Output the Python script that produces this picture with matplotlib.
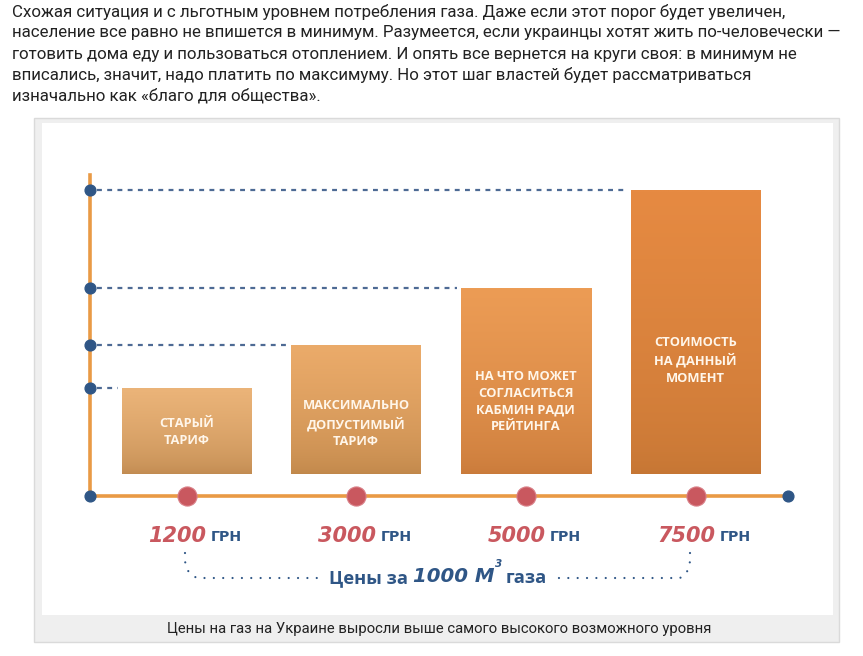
import matplotlib
matplotlib.use("Agg")
import matplotlib.pyplot as plt
import numpy as np
from matplotlib.colors import LinearSegmentedColormap
from matplotlib.patches import Rectangle

# data
prices = [1200, 3000, 5000, 7500]
bar_labels = ["СТАРЫЙ\nТАРИФ",
              "МАКСИМАЛЬНО\nДОПУСТИМЫЙ\nТАРИФ",
              "НА ЧТО МОЖЕТ\nСОГЛАСИТЬСЯ\nКАБМИН РАДИ\nРЕЙТИНГА",
              "СТОИМОСТЬ\nНА ДАННЫЙ\nМОМЕНТ"]
bar_tops = [108, 151, 208, 306]   # bar heights as drawn (not to scale with price)
bar_base = 22

paragraph = [
    "Схожая ситуация и с льготным уровнем потребления газа. Даже если этот порог будет увеличен,",
    "население все равно не впишется в минимум. Разумеется, если украинцы хотят жить по-человечески —",
    "готовить дома еду и пользоваться отоплением. И опять все вернется на круги своя: в минимум не",
    "вписались, значит, надо платить по максимуму. Но этот шаг властей будет рассматриваться",
    "изначально как «благо для общества».",
]
caption = "Цены на газ на Украине выросли выше самого высокого возможного уровня"

W, H = 863, 656
fig = plt.figure(figsize=(W / 100, H / 100), dpi=100)
fig.patch.set_facecolor("white")

# page overlay in pixel coordinates
page = fig.add_axes([0, 0, 1, 1], zorder=0)
page.set_xlim(0, W)
page.set_ylim(H, 0)
page.axis("off")

for k, line in enumerate(paragraph):
    page.text(12, 12 + k * 21, line, fontsize=12.2, family="Roboto",
              color="#222222", va="center", ha="left")

page.add_patch(Rectangle((34, 118), 805, 524, facecolor="#EFEFEF",
                         edgecolor="#DADADA", lw=1))
page.add_patch(Rectangle((42, 123), 791, 492, facecolor="white", edgecolor="none"))
page.text(439, 629, caption, fontsize=10.7, family="Roboto", color="#222222",
          ha="center", va="center")

blue = "#2F5686"
red = "#C9585F"
orange = "#E99A45"

# dotted bracket under the price labels
t = np.linspace(0, 1, 20)
lx = 185 + 12 * t ** 2
ly = 553 + 25 * np.sqrt(t)
bx = np.concatenate([lx, np.linspace(lx[-1], 322, 30)])
by = np.concatenate([ly, np.full(30, ly[-1])])
page.plot(bx, by, color=blue, lw=1.6, linestyle=(0, (0.01, 4.2)),
          dash_capstyle="round")
rx = 690 - 10 * t ** 2
rx_full = np.concatenate([rx, np.linspace(rx[-1], 551, 30)])
page.plot(rx_full, by, color=blue, lw=1.6, linestyle=(0, (0.01, 4.2)),
          dash_capstyle="round")

# axis title pieces, chained left to right
pieces = [("Цены за ", dict(fontsize=13.2, family="Open Sans", weight="bold"), 578, 0),
          ("1000 М", dict(fontsize=14.2, family="DejaVu Sans", weight="bold", style="italic"), 576, 0),
          ("3", dict(fontsize=7.5, family="DejaVu Sans", weight="bold", style="italic"), 564, 1),
          ("газа", dict(fontsize=13.2, family="Open Sans", weight="bold"), 578, 3)]
renderer = fig.canvas.get_renderer()
cx = 329
for txt, kw, yy, pad in pieces:
    tt = page.text(cx + pad, yy, txt, color=blue, va="center", ha="left", **kw)
    bb = tt.get_window_extent(renderer)
    cx = cx + pad + bb.width

# chart
ax = fig.add_axes([90 / W, 1 - 496 / H, (788 - 90) / W, (496 - 175) / H], zorder=1)
ax.patch.set_alpha(0)
x = np.arange(len(prices))
step = 169.67
xmin, xmax = (90 - 186.5) / step, (788 - 186.5) / step
ax.set_xlim(xmin, xmax)
ax.set_ylim(0, 321)
for s in ["top", "right"]:
    ax.spines[s].set_visible(False)
for s in ["left", "bottom"]:
    ax.spines[s].set_color(orange)
    ax.spines[s].set_linewidth(2.6)
ax.set_xticks([])
ax.set_yticks([])

heights = [tp - bar_base for tp in bar_tops]
bars = ax.bar(x, heights, bottom=bar_base, width=130 / step, color="none", zorder=2)

grad_colors = [("#EBB479", "#C08A50"),
               ("#EBAB6A", "#C0874A"),
               ("#EC9C55", "#C97A3A"),
               ("#E68A42", "#C57634")]
for b, (c_top, c_bot) in zip(bars, grad_colors):
    cmap = LinearSegmentedColormap.from_list("g", [c_bot, c_top])
    grad = np.linspace(0, 1, 256).reshape(-1, 1) ** 0.6
    x0, y0 = b.get_x(), b.get_y()
    ax.imshow(grad, cmap=cmap, origin="lower", aspect="auto", zorder=2,
              extent=(x0, x0 + b.get_width(), y0, y0 + b.get_height()))
ax.set_xlim(xmin, xmax)
ax.set_ylim(0, 321)

label_frac = [0.49, 0.39, 0.39, 0.40]
for b, lab, f in zip(bars, bar_labels, label_frac):
    ax.text(b.get_x() + b.get_width() / 2, b.get_y() + f * b.get_height(), lab,
            ha="center", va="center", color="#FFF6EA", fontsize=9.3,
            family="Open Sans", weight="bold", linespacing=1.38, zorder=4)

# dashed guides from the y axis to each bar
gap = 4 / step
start = xmin + 7 / step
for b, tp in zip(bars, bar_tops):
    ax.hlines(tp, start, b.get_x() - gap, color="#4D6A94", lw=1.6,
              linestyle=(0, (2.2, 2.4)), zorder=1)

# dots on the axes
ax.scatter([xmin] * (len(bar_tops) + 1), [0] + bar_tops, s=60, color=blue,
           zorder=5, clip_on=False)
ax.scatter([xmax], [0], s=60, color=blue, zorder=5, clip_on=False)
ax.scatter(x, [0] * len(x), s=190, color=red, edgecolor="#D98088", lw=0.8,
           zorder=5, clip_on=False)

# price labels under the axis
for xi, p in zip(x, prices):
    ax.annotate(str(p), xy=(xi, 0), xytext=(14, -29), textcoords="offset points",
                ha="right", va="center", fontsize=15, family="DejaVu Sans",
                weight="bold", style="italic", color=red, annotation_clip=False)
    ax.annotate("ГРН", xy=(xi, 0), xytext=(17.5, -29.5), textcoords="offset points",
                ha="left", va="center", fontsize=10.3, family="DejaVu Sans",
                weight="bold", color=blue, annotation_clip=False)

fig.savefig("out.png", dpi=100)
